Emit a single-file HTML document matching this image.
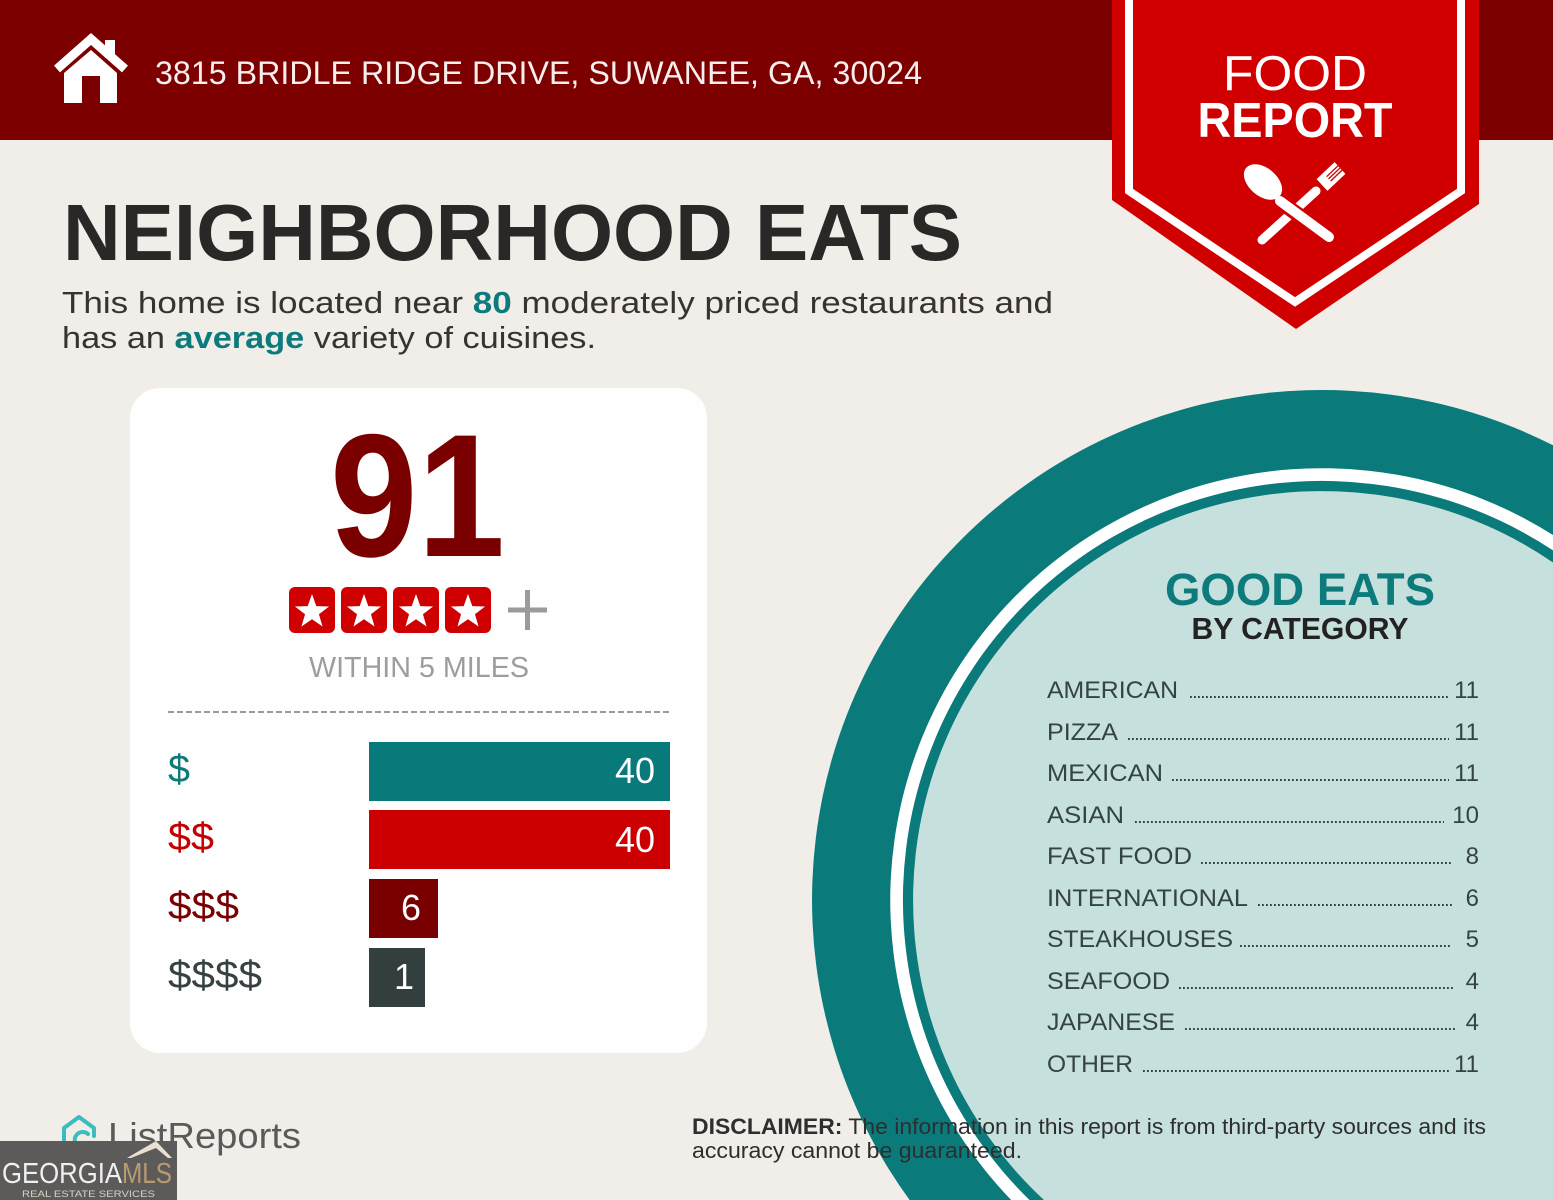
<!DOCTYPE html>
<html><head><meta charset="utf-8"><style>
html,body{margin:0;padding:0;background:#f1ede9;width:1553px;height:1200px;overflow:hidden;}
svg{display:block;position:absolute;left:0;top:0;}
text{font-family:"Liberation Sans",sans-serif;}
</style></head><body>
<svg width="1553" height="1200" viewBox="0 0 1553 1200" xmlns="http://www.w3.org/2000/svg">
<rect x="0" y="0" width="1553" height="1200" fill="#f1ede9"/>
<!-- header -->
<rect x="0" y="0" width="1553" height="140" fill="#7c0000"/>
<!-- house icon -->
<polyline points="57,69 91,39 125,69" fill="none" stroke="#ffffff" stroke-width="9" stroke-linejoin="miter"/>
<rect x="105" y="40" width="10" height="18" fill="#ffffff"/>
<polygon points="64,73 91,50 117,73 117,103 100,103 100,76 82,76 82,103 64,103" fill="#ffffff"/>
<text x="155" y="84" font-size="32" fill="#f7eeee" textLength="767" lengthAdjust="spacingAndGlyphs">3815 BRIDLE RIDGE DRIVE, SUWANEE, GA, 30024</text>

<!-- banner -->
<polygon points="1112,0 1479,0 1479,204 1296,329 1112,200" fill="#d00000"/>
<polyline points="1129,0 1129,191 1295,302 1461,191 1461,0" fill="none" stroke="#ffffff" stroke-width="8" stroke-linejoin="miter"/>
<text x="1295" y="90" font-size="49" fill="#ffffff" text-anchor="middle" textLength="144" lengthAdjust="spacingAndGlyphs">FOOD</text>
<text x="1295" y="137" font-size="49" font-weight="bold" fill="#ffffff" text-anchor="middle" textLength="195" lengthAdjust="spacingAndGlyphs">REPORT</text>
<!-- utensils -->
<line x1="1262" y1="240" x2="1316" y2="191" stroke="#ffffff" stroke-width="9" stroke-linecap="round"/>
<polygon points="1316.6,179.1 1327.4,190.9 1345.4,173.9 1334.6,162.1" fill="#ffffff"/>
<line x1="1326.6" y1="176.7" x2="1341" y2="163" stroke="#d00000" stroke-width="1.3"/>
<line x1="1328.6" y1="178.9" x2="1343" y2="165.2" stroke="#d00000" stroke-width="1.3"/>
<line x1="1330.6" y1="181.1" x2="1345" y2="167.4" stroke="#d00000" stroke-width="1.3"/>
<line x1="1282" y1="203" x2="1329" y2="237" stroke="#d00000" stroke-width="15" stroke-linecap="round"/>
<line x1="1280" y1="201" x2="1329" y2="237" stroke="#ffffff" stroke-width="10" stroke-linecap="round"/>
<ellipse cx="1263" cy="182" rx="22" ry="14" transform="rotate(40 1263 182)" fill="#ffffff"/>

<!-- title -->
<text x="63" y="260" font-size="80" font-weight="bold" fill="#2a2727" textLength="899" lengthAdjust="spacingAndGlyphs">NEIGHBORHOOD EATS</text>
<text x="62" y="313" font-size="31" fill="#373333" textLength="991" lengthAdjust="spacingAndGlyphs">This home is located near <tspan font-weight="bold" fill="#0d7b7b">80</tspan> moderately priced restaurants and</text>
<text x="62" y="348" font-size="31" fill="#373333" textLength="534" lengthAdjust="spacingAndGlyphs">has an <tspan font-weight="bold" fill="#0d7b7b">average</tspan> variety of cuisines.</text>

<!-- card -->
<rect x="130" y="388" width="577" height="665" rx="30" ry="30" fill="#fefefe"/>
<text x="330" y="556" font-size="175" font-weight="bold" fill="#7a0000" textLength="175" lengthAdjust="spacingAndGlyphs">91</text>
<g fill="#d10000">
<rect x="289" y="587" width="46" height="46" rx="6"/>
<rect x="341" y="587" width="46" height="46" rx="6"/>
<rect x="393" y="587" width="46" height="46" rx="6"/>
<rect x="445" y="587" width="46" height="46" rx="6"/>
</g>
<g fill="#ffffff">
<path transform="translate(312,612)" d="M0,-18 L4.29,-5.91 L17.12,-5.56 L6.94,2.26 L10.58,14.56 L0,7.3 L-10.58,14.56 L-6.94,2.26 L-17.12,-5.56 L-4.29,-5.91Z"/>
<path transform="translate(364,612)" d="M0,-18 L4.29,-5.91 L17.12,-5.56 L6.94,2.26 L10.58,14.56 L0,7.3 L-10.58,14.56 L-6.94,2.26 L-17.12,-5.56 L-4.29,-5.91Z"/>
<path transform="translate(416,612)" d="M0,-18 L4.29,-5.91 L17.12,-5.56 L6.94,2.26 L10.58,14.56 L0,7.3 L-10.58,14.56 L-6.94,2.26 L-17.12,-5.56 L-4.29,-5.91Z"/>
<path transform="translate(468,612)" d="M0,-18 L4.29,-5.91 L17.12,-5.56 L6.94,2.26 L10.58,14.56 L0,7.3 L-10.58,14.56 L-6.94,2.26 L-17.12,-5.56 L-4.29,-5.91Z"/>
</g>
<line x1="508" y1="610" x2="547" y2="610" stroke="#9b9b9b" stroke-width="5"/>
<line x1="527.5" y1="590" x2="527.5" y2="630" stroke="#9b9b9b" stroke-width="5"/>
<text x="309" y="677" font-size="29" fill="#9d9d9d" textLength="220" lengthAdjust="spacingAndGlyphs">WITHIN 5 MILES</text>
<line x1="168" y1="712" x2="670" y2="712" stroke="#9a9a9a" stroke-width="2" stroke-dasharray="6 3"/>

<!-- bars -->
<rect x="369" y="742" width="301" height="59" fill="#087a7a"/>
<rect x="369" y="810" width="301" height="59" fill="#cc0000"/>
<rect x="369" y="879" width="69" height="59" fill="#790000"/>
<rect x="369" y="948" width="56" height="59" fill="#333e3f"/>
<text x="168" y="782" font-size="39" fill="#0d7b7b" textLength="22" lengthAdjust="spacingAndGlyphs">$</text>
<text x="168" y="850" font-size="39" fill="#c40000" textLength="46" lengthAdjust="spacingAndGlyphs">$$</text>
<text x="168" y="919" font-size="39" fill="#7a0000" textLength="71" lengthAdjust="spacingAndGlyphs">$$$</text>
<text x="168" y="988" font-size="39" fill="#364142" textLength="94" lengthAdjust="spacingAndGlyphs">$$$$</text>
<text x="655" y="783" font-size="36" fill="#ffffff" text-anchor="end">40</text>
<text x="655" y="852" font-size="36" fill="#ffffff" text-anchor="end">40</text>
<text x="411" y="920" font-size="36" fill="#ffffff" text-anchor="middle">6</text>
<text x="404" y="989" font-size="36" fill="#ffffff" text-anchor="middle">1</text>

<!-- circle (clipped to frame via arc paths) -->
<path d="M909.6,1200 A510,510 0 0,1 1553,445.3 L1553,1200 Z" fill="#0b7a7a"/>
<path d="M1011.2,1200 A432,432 0 0,1 1553,535 L1553,1200 Z" fill="#ffffff"/>
<path d="M1029.5,1200 A419,419 0 0,1 1553,550.4 L1553,1200 Z" fill="#0b7a7a"/>
<path d="M1044,1200 A409,409 0 0,1 1553,562.5 L1553,1200 Z" fill="#c6e0de"/>
<text x="1300" y="605" font-size="45" font-weight="bold" fill="#0d7b7b" text-anchor="middle" textLength="270" lengthAdjust="spacingAndGlyphs">GOOD EATS</text>
<text x="1300" y="639" font-size="31" font-weight="bold" fill="#222222" text-anchor="middle" textLength="217" lengthAdjust="spacingAndGlyphs">BY CATEGORY</text>

<g font-size="24" fill="#344343">
<text x="1047" y="698" textLength="131" lengthAdjust="spacingAndGlyphs">AMERICAN</text>
<text x="1047" y="740" textLength="71" lengthAdjust="spacingAndGlyphs">PIZZA</text>
<text x="1047" y="781" textLength="116" lengthAdjust="spacingAndGlyphs">MEXICAN</text>
<text x="1047" y="823" textLength="77" lengthAdjust="spacingAndGlyphs">ASIAN</text>
<text x="1047" y="864" textLength="145" lengthAdjust="spacingAndGlyphs">FAST FOOD</text>
<text x="1047" y="906" textLength="201" lengthAdjust="spacingAndGlyphs">INTERNATIONAL</text>
<text x="1047" y="947" textLength="186" lengthAdjust="spacingAndGlyphs">STEAKHOUSES</text>
<text x="1047" y="989" textLength="123" lengthAdjust="spacingAndGlyphs">SEAFOOD</text>
<text x="1047" y="1030" textLength="128" lengthAdjust="spacingAndGlyphs">JAPANESE</text>
<text x="1047" y="1072" textLength="86" lengthAdjust="spacingAndGlyphs">OTHER</text>
</g>
<g font-size="24" fill="#344343" text-anchor="end">
<text x="1479" y="698">11</text>
<text x="1479" y="740">11</text>
<text x="1479" y="781">11</text>
<text x="1479" y="823">10</text>
<text x="1479" y="864">8</text>
<text x="1479" y="906">6</text>
<text x="1479" y="947">5</text>
<text x="1479" y="989">4</text>
<text x="1479" y="1030">4</text>
<text x="1479" y="1072">11</text>
</g>
<g stroke="#33403f" stroke-width="2" stroke-dasharray="1.8 2.2">
<line x1="1190" y1="697" x2="1449" y2="697"/>
<line x1="1128" y1="739" x2="1449" y2="739"/>
<line x1="1172" y1="780" x2="1449" y2="780"/>
<line x1="1135" y1="822" x2="1444" y2="822"/>
<line x1="1201" y1="863" x2="1452" y2="863"/>
<line x1="1258" y1="905" x2="1452" y2="905"/>
<line x1="1240" y1="946" x2="1452" y2="946"/>
<line x1="1179" y1="988" x2="1455" y2="988"/>
<line x1="1185" y1="1029" x2="1455" y2="1029"/>
<line x1="1143" y1="1071" x2="1449" y2="1071"/>
</g>

<!-- disclaimer -->
<text x="692" y="1134" font-size="22" fill="#2e2e2e" textLength="794" lengthAdjust="spacingAndGlyphs"><tspan font-weight="bold">DISCLAIMER:</tspan> The information in this report is from third-party sources and its</text>
<text x="692" y="1158" font-size="22" fill="#2e2e2e" textLength="330" lengthAdjust="spacingAndGlyphs">accuracy cannot be guaranteed.</text>

<!-- ListReports -->
<path d="M64,1146 V1128 L79,1117 L94,1128 V1136" fill="none" stroke="#3bbcbf" stroke-width="4" stroke-linejoin="round" stroke-linecap="round"/>
<path d="M88,1134 A8,8 0 1,0 88,1146" fill="none" stroke="#3bbcbf" stroke-width="4" stroke-linecap="round"/>
<text x="108" y="1148" font-size="36" fill="#5a5a5a" textLength="193" lengthAdjust="spacingAndGlyphs">ListReports</text>

<!-- Georgia MLS -->
<rect x="0" y="1141" width="177" height="59" fill="#5d5b5a"/>
<polygon points="127,1158 156,1141 172,1158 168,1158 156,1148 131,1158" fill="#e8e0d2"/>
<text x="2" y="1183" font-size="29" fill="#f0f0f0" textLength="120" lengthAdjust="spacingAndGlyphs">GEORGIA</text>
<text x="122" y="1183" font-size="29" fill="#b89c6f" textLength="50" lengthAdjust="spacingAndGlyphs">MLS</text>
<text x="22" y="1197" font-size="9" fill="#d8d0c4" textLength="133" lengthAdjust="spacingAndGlyphs">REAL ESTATE SERVICES</text>
</svg>
</body></html>
